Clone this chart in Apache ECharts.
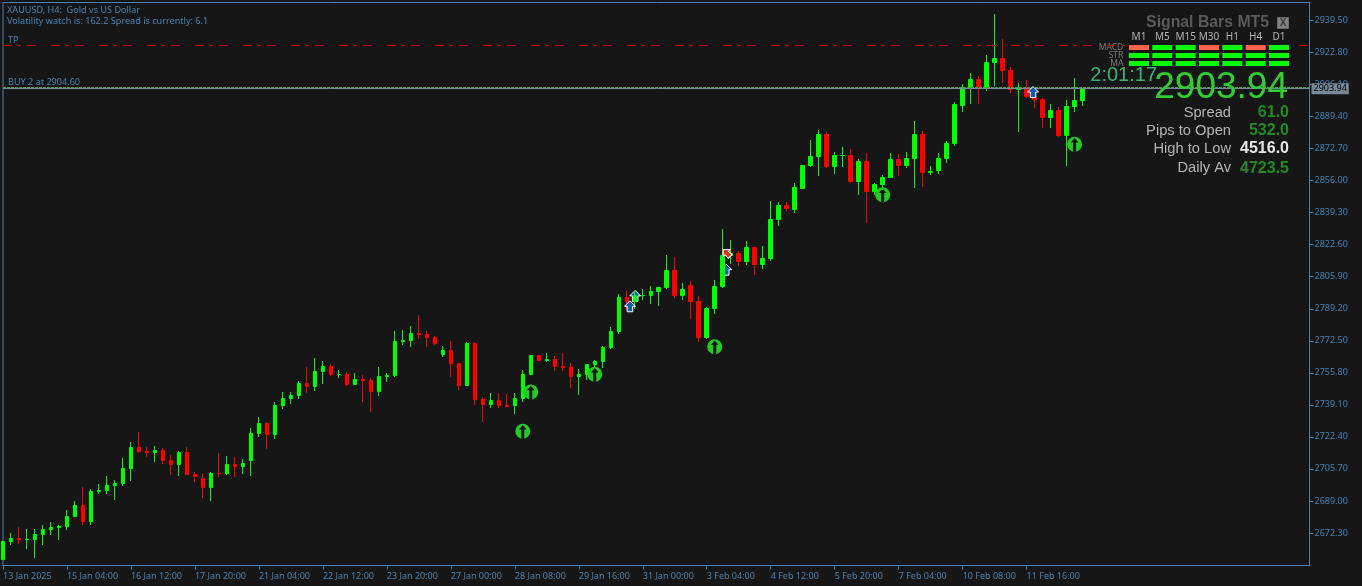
<!DOCTYPE html>
<html>
<head>
<meta charset="utf-8">
<title>XAUUSD H4</title>
<script src="https://cdn.jsdelivr.net/npm/echarts@6/dist/echarts.min.js"></script>
<style>
  html, body { margin: 0; padding: 0; background: #161616; }
  #main { width: 1362px; height: 586px; }
</style>
</head>
<body>
<div id="main"></div>
<script>
// H4 candles
var opens = [
  2658.47,2667.85,2669.41,2668.89,2668.89,2671.50,2674.11,2675.15,2675.67,2680.88,
  2686.62,2678.28,2693.92,2694.44,2697.05,2698.09,2705.91,2716.86,2714.78,2714.26,
  2715.30,2710.09,2708.00,2714.26,2702.78,2700.70,2696.00,2703.30,2703.30,2708.01,
  2706.95,2710.09,2724.16,2729.38,2723.64,2738.76,2742.41,2743.98,2750.24,2748.67,
  2756.49,2759.09,2754.93,2754.93,2749.71,2752.32,2751.80,2746.06,2753.88,2754.41,
  2772.13,2772.65,2776.31,2775.78,2774.21,2765.35,2767.44,2760.66,2749.19,2771.09,
  2741.89,2739.28,2741.37,2738.76,2738.76,2742.41,2754.93,2764.83,2762.23,2762.75,
  2759.09,2758.57,2753.88,2754.93,2760.14,2761.71,2769.00,2777.35,2795.07,2792.99,
  2796.11,2796.11,2798.20,2800.29,2809.15,2796.11,2801.33,2792.99,2774.21,2789.34,
  2800.81,2816.97,2818.02,2813.84,2821.14,2812.28,2815.41,2835.74,2843.05,2840.96,
  2851.90,2863.90,2868.59,2880.06,2863.38,2869.10,2869.11,2855.56,2865.99,2850.34,
  2853.99,2857.64,2867.03,2863.90,2867.55,2880.06,2860.25,2861.29,2867.55,2875.37,
  2895.18,2904.57,2908.74,2904.04,2917.60,2919.69,2913.43,2903.52,2904.57,2899.88,
  2898.31,2888.92,2892.58,2879.54,2894.66,2897.79
];
var closes = [
  2667.85,2669.41,2668.89,2668.90,2671.50,2674.11,2675.15,2675.67,2680.89,2686.62,
  2678.28,2693.92,2694.44,2697.05,2698.09,2705.91,2716.86,2714.78,2714.26,2715.30,
  2710.09,2708.00,2714.26,2702.78,2701.74,2696.00,2703.30,2703.29,2708.01,2706.95,
  2708.53,2724.16,2729.38,2723.64,2738.76,2742.41,2743.98,2750.24,2748.67,2756.49,
  2759.09,2754.93,2754.94,2749.71,2752.32,2751.80,2746.06,2753.89,2754.41,2772.13,
  2772.65,2776.31,2775.78,2774.21,2771.08,2767.44,2760.66,2749.19,2771.09,2741.89,
  2739.28,2741.37,2738.76,2738.24,2742.41,2754.93,2764.83,2762.23,2762.75,2759.09,
  2758.57,2753.88,2754.93,2760.14,2761.71,2769.00,2777.35,2795.07,2792.99,2796.12,
  2796.12,2798.20,2800.29,2809.15,2796.11,2799.24,2792.99,2774.21,2789.34,2800.81,
  2816.97,2818.02,2813.84,2821.14,2812.28,2815.41,2835.74,2843.05,2841.48,2852.43,
  2863.90,2868.59,2880.06,2863.38,2869.11,2869.11,2855.56,2865.99,2850.34,2853.99,
  2857.64,2867.03,2863.90,2867.55,2880.06,2860.25,2860.77,2867.55,2875.37,2895.70,
  2904.57,2908.74,2904.04,2917.60,2919.69,2913.43,2903.52,2904.57,2899.89,2898.31,
  2888.92,2892.58,2879.54,2894.66,2897.79,2903.94
];
var lows = [
  2658.21,2666.02,2666.54,2663.94,2659.25,2666.02,2671.24,2668.63,2673.85,2680.62,
  2676.45,2676.45,2692.62,2692.62,2689.49,2696.79,2699.40,2714.00,2711.91,2709.31,
  2708.27,2702.52,2702.01,2702.52,2698.87,2690.53,2688.97,2701.48,2702.52,2701.48,
  2703.04,2702.01,2722.33,2716.08,2721.29,2736.94,2739.54,2742.15,2745.28,2746.32,
  2749.97,2754.15,2753.10,2748.93,2749.45,2740.59,2735.38,2743.72,2751.02,2753.62,
  2770.30,2769.26,2773.43,2769.26,2770.30,2764.05,2753.62,2746.84,2748.93,2739.02,
  2730.16,2737.46,2737.46,2737.98,2734.33,2740.59,2754.67,2761.97,2761.45,2756.75,
  2756.75,2747.89,2744.24,2752.06,2758.83,2758.31,2768.22,2776.04,2788.56,2789.08,
  2793.77,2791.69,2790.64,2799.50,2794.81,2793.77,2783.86,2771.87,2773.43,2786.47,
  2800.03,2812.54,2811.50,2812.02,2806.80,2809.93,2814.11,2832.35,2840.18,2839.13,
  2851.64,2863.12,2858.42,2862.60,2859.47,2863.12,2854.77,2848.52,2833.92,2848.52,
  2851.12,2857.38,2858.42,2862.60,2852.17,2852.69,2858.95,2859.47,2865.20,2874.07,
  2891.79,2895.96,2895.96,2902.74,2905.35,2906.91,2901.70,2881.37,2899.09,2893.88,
  2883.45,2883.45,2878.76,2863.64,2891.79,2894.92
];
var highs = [
  2668.11,2672.29,2675.41,2674.37,2674.37,2676.45,2678.02,2676.45,2684.28,2688.97,
  2696.26,2695.22,2697.83,2702.01,2699.92,2711.39,2719.73,2724.95,2717.12,2717.65,
  2716.60,2712.95,2715.04,2717.12,2704.09,2703.04,2704.09,2714.00,2712.43,2711.91,
  2710.87,2727.03,2732.76,2730.16,2740.59,2745.80,2745.80,2751.54,2758.83,2763.53,
  2761.97,2760.40,2757.27,2756.23,2755.71,2754.67,2753.10,2758.83,2755.71,2777.61,
  2778.13,2780.22,2785.95,2777.61,2774.99,2769.78,2772.39,2760.92,2771.87,2771.87,
  2743.20,2745.28,2745.28,2744.76,2745.28,2757.27,2765.09,2765.09,2766.14,2764.57,
  2766.14,2760.92,2757.79,2760.40,2762.49,2769.78,2779.70,2796.90,2798.46,2798.46,
  2799.50,2801.07,2800.55,2817.23,2816.19,2802.63,2803.68,2795.85,2790.12,2804.20,
  2830.79,2825.05,2819.32,2824.53,2821.40,2821.93,2845.39,2844.87,2844.87,2854.77,
  2864.16,2877.19,2882.41,2881.37,2870.94,2873.54,2872.50,2867.29,2870.42,2854.77,
  2858.95,2870.42,2869.89,2870.94,2887.10,2881.89,2863.64,2870.42,2876.67,2897.01,
  2906.39,2912.13,2910.57,2921.51,2942.89,2929.85,2915.26,2906.91,2908.48,2900.14,
  2899.09,2895.96,2894.40,2898.05,2909.52,2903.94
];

var timeTickBars = [0, 8, 16, 24, 32, 40, 48, 56, 64, 72, 80, 88, 96, 104, 112, 120, 128];
var timeTickLabels = ['13 Jan 2025', '15 Jan 04:00', '16 Jan 12:00', '17 Jan 20:00', '21 Jan 04:00',
  '22 Jan 12:00', '23 Jan 20:00', '27 Jan 00:00', '28 Jan 08:00', '29 Jan 16:00', '31 Jan 00:00',
  '3 Feb 04:00', '4 Feb 12:00', '5 Feb 20:00', '7 Feb 04:00', '10 Feb 08:00', '11 Feb 16:00'];
var priceTicks = [2939.5, 2922.8, 2906.1, 2889.4, 2872.7, 2856, 2839.3, 2822.6, 2805.9, 2789.2,
  2772.5, 2755.8, 2739.1, 2722.4, 2705.7, 2689, 2672.3];

var bidPrice = 2903.94;
var buyPrice = 2904.60;
var tpPrice = 2926.47;

// indicator signals: [bar, price]
var signalArrows = [[65, 2725.31], [66, 2745.80], [74, 2755.03], [89, 2769.42], [110, 2848.68], [134, 2874.95]];
var tradeMarksTop = [[78.4, 2790.5], [128.8, 2902.2]];
var tradeMarksBack = [[90.44, 2809.6], [79.05, 2795.9]];
var tradeMarksRed = [[90.5, 2818.3]];

// signal bars panel
var panelFrames = ['M1', 'M5', 'M15', 'M30', 'H1', 'H4', 'D1'];
var panelRows = ['MACD', 'STR', 'MA'];
var macdState = [0, 1, 1, 0, 1, 0, 1];
var strState = [1, 1, 1, 1, 1, 1, 1];
var maState = [1, 1, 1, 1, 1, 1, 1];

var AXIS_COLOR = '#4682B4';
var BG = '#161616';
var SMALL_FONT = '"Noto Sans", sans-serif';
var PANEL_FONT = '"Liberation Sans", Arial, sans-serif';

var candleData = opens.map(function (o, i) {
  return [i, o, closes[i], lows[i], highs[i]];
});

var panelData = [];
[macdState, strState, maState].forEach(function (row, r) {
  row.forEach(function (on, c) {
    panelData.push({
      value: [c, r],
      itemStyle: { color: on ? '#00FF00' : '#FF6347', opacity: 1 }
    });
  });
});

var circleArrow = 'path://M50 0A50 50 0 1 1 50 100A50 50 0 1 1 50 0ZM50 8L24 38L40 38L40 100L60 100L60 38L76 38Z';
var tradeArrow = 'path://M50 0L100 50L75 50L75 100L25 100L25 50L0 50Z';

function panelText(text, x, y, size, color, align, weight) {
  return {
    type: 'text', x: x, y: y, z: 50, silent: true,
    style: {
      text: text, fill: color, align: align || 'left', verticalAlign: 'middle',
      font: (weight || 'normal') + ' ' + size + 'px ' + PANEL_FONT
    }
  };
}
function smallText(text, x, y) {
  return {
    type: 'text', x: x, y: y, z: 50, silent: true,
    style: {
      text: text, fill: AXIS_COLOR, align: 'left', verticalAlign: 'middle',
      font: '9.1px ' + SMALL_FONT
    }
  };
}

var chart = echarts.init(document.getElementById('main'), null, { renderer: 'canvas' });

chart.setOption({
  animation: false,
  backgroundColor: BG,
  grid: [
    { left: 2.5, top: 2.5, width: 1307, height: 563, show: true, backgroundColor: BG, borderColor: AXIS_COLOR, borderWidth: 1 },
    { left: 1127.33, top: 43.5, width: 163.33, height: 24 }
  ],
  xAxis: [
    {
      type: 'value', gridIndex: 0, min: 0, max: 163.375, position: 'bottom',
      splitLine: { show: false },
      axisLine: { onZero: false, lineStyle: { color: AXIS_COLOR, width: 1 } },
      axisTick: { customValues: timeTickBars, length: 4, lineStyle: { color: AXIS_COLOR } },
      axisLabel: {
        customValues: timeTickBars, color: AXIS_COLOR, fontFamily: SMALL_FONT, fontSize: 9,
        align: 'left', margin: 6, hideOverlap: false,
        formatter: function (v) { return timeTickLabels[timeTickBars.indexOf(v)] || ''; }
      }
    },
    {
      type: 'category', gridIndex: 1, data: panelFrames, position: 'top',
      axisLine: { show: false }, axisTick: { show: false }, splitLine: { show: false },
      axisLabel: { color: '#b4b4b4', fontFamily: SMALL_FONT, fontSize: 10, margin: 1, interval: 0 }
    }
  ],
  yAxis: [
    {
      type: 'value', gridIndex: 0, min: 2655.34, max: 2948.89, position: 'right',
      splitLine: { show: false },
      axisLine: { show: true, onZero: false, lineStyle: { color: AXIS_COLOR, width: 1 } },
      axisTick: { show: true, customValues: priceTicks, length: 4, lineStyle: { color: AXIS_COLOR } },
      axisLabel: {
        customValues: priceTicks, color: AXIS_COLOR, fontFamily: SMALL_FONT, fontSize: 9, margin: 5,
        padding: [4, 0, 0, 0],
        formatter: function (v) { return v.toFixed(2); }
      }
    },
    {
      type: 'category', gridIndex: 1, data: panelRows, inverse: true,
      axisLine: { show: false }, axisTick: { show: false }, splitLine: { show: false },
      axisLabel: { color: '#7c7c7c', fontFamily: SMALL_FONT, fontSize: 8.5, margin: 4, interval: 0 }
    }
  ],
  series: [
    {
      type: 'scatter', xAxisIndex: 0, yAxisIndex: 0, z: 1,
      symbol: tradeArrow, symbolSize: [11, 11], data: tradeMarksBack, silent: true,
      itemStyle: { color: '#0F5FA8', borderColor: '#fff', borderWidth: 1, opacity: 1 }
    },
    {
      type: 'candlestick', xAxisIndex: 0, yAxisIndex: 0, z: 2,
      barWidth: 4, data: candleData, silent: true,
      encode: { x: 0, y: [1, 2, 3, 4] },
      itemStyle: {
        color: '#00FF00', color0: '#FF0000',
        borderColor: '#00FF00', borderColor0: '#FF0000', borderWidth: 1
      },
      markLine: {
        silent: true, symbol: 'none', animation: false,
        data: [
          { yAxis: tpPrice, label: { show: false }, lineStyle: { color: '#C80000', width: 1, type: [9, 6, 3, 6, 9, 15], opacity: 1 } },
          { yAxis: buyPrice, label: { show: false }, lineStyle: { color: '#46A046', width: 1, type: [3, 1], opacity: 1 } },
          {
            yAxis: bidPrice,
            lineStyle: { color: '#778899', width: 1, type: 'solid', opacity: 1 },
            label: {
              show: true, position: 'end', distance: 2, color: '#000',
              backgroundColor: '#778899', padding: [1, 2, 1, 2],
              fontFamily: SMALL_FONT, fontSize: 9,
              formatter: function () { return bidPrice.toFixed(2); }
            }
          }
        ]
      }
    },
    {
      type: 'scatter', xAxisIndex: 0, yAxisIndex: 0, z: 5,
      symbol: tradeArrow, symbolSize: [11, 11], data: tradeMarksTop, silent: true,
      itemStyle: { color: '#0F5FA8', borderColor: '#fff', borderWidth: 1, opacity: 1 }
    },
    {
      type: 'scatter', xAxisIndex: 0, yAxisIndex: 0, z: 5,
      symbol: tradeArrow, symbolSize: [10, 10], symbolRotate: 45, data: tradeMarksRed, silent: true,
      itemStyle: { color: '#E03020', borderColor: '#fff', borderWidth: 1, opacity: 1 }
    },
    {
      type: 'scatter', xAxisIndex: 0, yAxisIndex: 0, z: 6,
      symbol: circleArrow, symbolSize: 15, data: signalArrows, silent: true,
      itemStyle: { color: '#22CC22', opacity: 1 }
    },
    {
      type: 'scatter', xAxisIndex: 1, yAxisIndex: 1, z: 40,
      symbol: 'rect', symbolSize: [20, 5], data: panelData, silent: true
    }
  ],
  graphic: [
    smallText('XAUUSD, H4:  Gold vs US Dollar', 7, 10),
    smallText('Volatility watch is: 162.2 Spread is currently: 6.1', 7, 21),
    smallText('TP', 8, 40),
    smallText('BUY 2 at 2904.60', 8, 82),
    panelText('Signal Bars MT5', 1269, 23, 15.8, '#5A5A5A', 'right', 'bold'),
    { type: 'rect', z: 50, silent: true, shape: { x: 1277.5, y: 17.5, width: 11, height: 11 }, style: { fill: '#808080', stroke: '#6a6a6a' } },
    panelText('X', 1283, 23, 10, '#3c3c3c', 'center', 'bold'),
    panelText('2:01:17', 1157, 75, 20, '#3CB371', 'right'),
    panelText('2903.94', 1288, 88, 37, '#32CD32', 'right'),
    panelText('Spread', 1231, 113, 14.7, '#B4B4B4', 'right'),
    panelText('61.0', 1289, 113, 16, '#228B22', 'right', 'bold'),
    panelText('Pips to Open', 1231, 131, 14.7, '#B4B4B4', 'right'),
    panelText('532.0', 1289, 131, 16, '#228B22', 'right', 'bold'),
    panelText('High to Low', 1231, 149, 14.7, '#B4B4B4', 'right'),
    panelText('4516.0', 1289, 149, 16, '#E6E6E6', 'right', 'bold'),
    panelText('Daily Av', 1231, 168, 14.7, '#B4B4B4', 'right'),
    panelText('4723.5', 1289, 169, 16, '#228B22', 'right', 'bold')
  ]
});
</script>
</body>
</html>
